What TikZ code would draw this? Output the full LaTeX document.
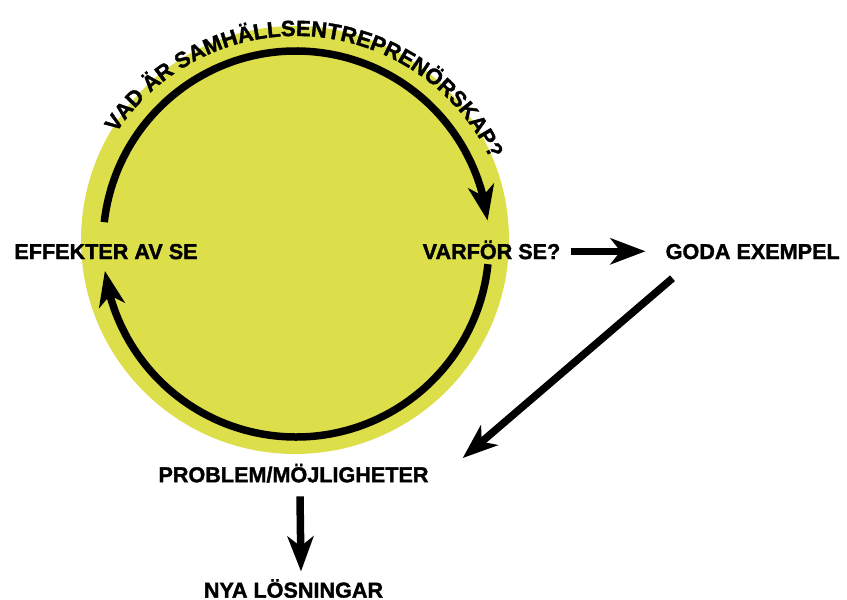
\documentclass[tikz,border=0pt]{standalone}
\usepackage{fontspec}
\setmainfont{Liberation Sans}[BoldFeatures={FakeBold=1.6}]
\usetikzlibrary{positioning,arrows.meta,bending,decorations.text}
\definecolor{sunny}{RGB}{221,223,74}

\begin{document}
\begin{tikzpicture}[
	x=1pt,
	y=1pt,
	stage/.style={
		font=\bfseries\fontsize{21.6}{22}\selectfont,
		inner sep=0pt,
		text height=15.5pt,
		text depth=0pt,
	},
	flow/.style={
		-{Stealth[length=35pt, width=26pt, inset=10pt]},
		line width=7.5pt,
	},
]
% fix the page size
\useasboundingbox (0,0) rectangle (847,600);

\fill[sunny] (295,360) circle (214);
\coordinate (hub) at (296,356);

\node (effekter) [stage] at (106,348.7) {EFFEKTER AV SE};
\node (varfor) [stage] at (491.5,348.7) {VARFÖR SE?};
\node (goda) [stage, right=105pt of varfor] {GODA EXEMPEL};
\node (problem) [stage] at (293.5,125.5) {PROBLEM/MÖJLIGHETER};
\node (nya) [stage, below=99.5pt of problem] {NYA LÖSNINGAR};

% the cycle round the circle
\draw[flow] (hub) ++(173.5:193) arc[start angle=173.5, end angle=7, radius=193];
\draw[flow] (hub) ++(-6:193) arc[start angle=-6, end angle=-172, radius=193];
\path[decorate, decoration={text along path, text align=center,
	text={|\bfseries\fontsize{22}{22}\selectfont|VAD ÄR SAMHÄLLSENTREPRENÖRSKAP?}}]
	(296,349) ++(160:215) arc[start angle=160, end angle=12, radius=215];

\draw[flow, shorten <=10pt, shorten >=20pt] (varfor.east) -- (goda.west);
\draw[flow] ([xshift=7pt, yshift=-19pt]goda.south west) -- ([xshift=34pt, yshift=8.5pt]problem.north east);
\draw[flow] ([xshift=6.5pt, yshift=-14pt]problem.south) -- ([xshift=7.5pt, yshift=10.5pt]nya.north);
\end{tikzpicture}
\end{document}
